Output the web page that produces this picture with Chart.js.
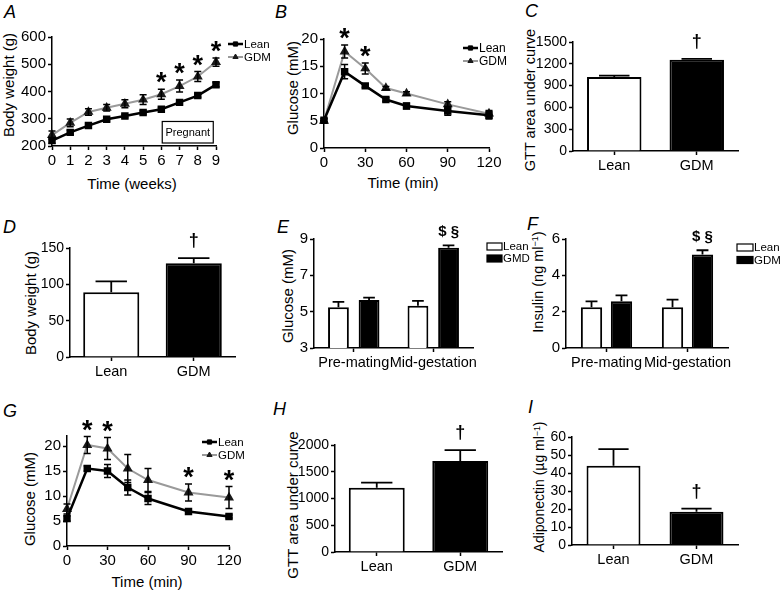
<!DOCTYPE html>
<html><head><meta charset="utf-8">
<script src="https://cdn.jsdelivr.net/npm/chart.js@4.4.1/dist/chart.umd.min.js"></script>
<style>
html,body{margin:0;padding:0;background:#fff;}
#wrap{position:relative;width:783px;height:592px;overflow:hidden;background:#fff;font-family:'Liberation Sans',Arial,sans-serif;color:#000;}
#wrap canvas{position:absolute;left:0;top:0;}
.t{position:absolute;white-space:nowrap;line-height:1;transform:translate(-50%,-50%);}
.r{transform:translate(-50%,-50%) rotate(-90deg);}
.p{position:absolute;font-style:italic;font-size:18px;line-height:1;}
sup{font-size:0.62em;vertical-align:0.5em;line-height:0;}
</style></head><body><div id="wrap">
<div class="p" style="left:4px;top:3px">A</div>
<div class="p" style="left:275px;top:3px">B</div>
<div class="p" style="left:525px;top:2px">C</div>
<div class="p" style="left:3px;top:218px">D</div>
<div class="p" style="left:277px;top:218px">E</div>
<div class="p" style="left:527px;top:215px">F</div>
<div class="p" style="left:3px;top:402px">G</div>
<div class="p" style="left:273px;top:400px">H</div>
<div class="p" style="left:528px;top:398px">I</div>

<div class="t r" style="left:8px;top:85px;font-size:15px">Body weight (g)</div>
<div class="t" style="left:132px;top:183px;font-size:15px">Time (weeks)</div>
<div class="t r" style="left:292px;top:88px;font-size:15px">Glucose (mM)</div>
<div class="t" style="left:403px;top:182px;font-size:15px">Time (min)</div>
<div class="t r" style="left:530px;top:100px;font-size:14.5px">GTT area under curve</div>
<div class="t r" style="left:30px;top:303px;font-size:15px">Body weight (g)</div>
<div class="t r" style="left:287px;top:296px;font-size:15px">Glucose (mM)</div>
<div class="t r" style="left:538px;top:282px;font-size:14.5px">Insulin (ng ml<sup>−1</sup>)</div>
<div class="t r" style="left:29px;top:499px;font-size:15px">Glucose (mM)</div>
<div class="t" style="left:147px;top:581px;font-size:15px">Time (min)</div>
<div class="t r" style="left:292px;top:505px;font-size:15px">GTT area under curve</div>
<div class="t r" style="left:539px;top:487px;font-size:14px">Adiponectin (µg ml<sup>−1</sup>)</div>
</div>
<script>
const FONT = "'Liberation Sans', Arial, sans-serif";

// ---- Panel A: body weight over time ----
const weeks = [0,1,2,3,4,5,6,7,8,9];
const weightLean = [220,250,275,298,310,323,335,360,385,425];
const weightLeanErr = [10,8,7,6,6,6,6,6,6,8];
const weightGDM = [240,285,325,340,355,370,390,420,455,508];
const weightGDMErr = [15,14,12,12,15,18,18,22,18,15];
const weightSig = ['','','','','','','*','*','*','*'];
const weightYTicks = [200,300,400,500,600];

// ---- Panel B: GTT ----
const gttTime = [0,15,30,45,60,90,120];
const gttXTicks = [0,30,60,90,120];
const gttLean = [5.1,14.0,11.4,8.9,7.7,6.8,6.0];
const gttLeanErr = [0.3,1.3,0.3,0.3,0.5,0.8,0.7];
const gttGDM = [5.0,17.7,14.6,11.0,10.0,8.0,6.3];
const gttGDMErr = [0.3,1.2,1.0,0.3,0.3,0.5,0.6];
const gttSig = ['','*','*','','','',''];
const gttYTicks = [0,5,10,15,20];

// ---- Panel C: GTT AUC ----
const groups = ['Lean','GDM'];
const aucMean = [1020,1255];
const aucErr = [18,12];
const aucSig = ['','†'];
const aucYTicks = [0,300,600,900,1200,1500];

// ---- Panel D: body weight gain ----
const bwMean = [89,129];
const bwErr = [15,7];
const bwSig = ['','†'];
const bwYTicks = [0,50,100,150];

// ---- Panel E: glucose ----
const phases = ['Pre-mating','Mid-gestation'];
const glucLean = [5.24,5.33];
const glucLeanErr = [0.3,0.26];
const glucGDM = [5.64,8.52];
const glucGDMErr = [0.13,0.13];
const glucSig = ['','$ §'];
const glucYTicks = [3,5,7,9];

// ---- Panel F: insulin ----
const insLean = [2.24,2.24];
const insLeanErr = [0.33,0.42];
const insGDM = [2.57,5.14];
const insGDMErr = [0.33,0.24];
const insSig = ['','$ §'];
const insYTicks = [0,2,4,6];

// ---- Panel G: second GTT ----
const gtt2Lean = [5.5,15.5,15.0,11.7,9.5,6.9,5.9];
const gtt2LeanErr = [0.5,0.5,1.3,1.5,1.2,0.3,0.3];
const gtt2GDM = [7.4,20.2,19.5,15.5,13.2,10.7,9.7];
const gtt2GDMErr = [1.0,1.7,2.2,2.8,2.3,1.7,2.2];
const gtt2Sig = ['','*','*','','','*','*'];

// ---- Panel H: GTT AUC ----
const auc2Mean = [1200,1700];
const auc2Err = [95,205];
const auc2Sig = ['','†'];
const auc2YTicks = [0,500,1000,1500,2000];

// ---- Panel I: adiponectin ----
const adipoMean = [44,18.5];
const adipoErr = [9.3,1.7];
const adipoSig = ['','†'];
const adipoYTicks = [0,10,20,30,40,50,60];

Chart.defaults.font.family = FONT;
Chart.defaults.color = '#000';

const errPlugin = {
  id:'errBars',
  afterDatasetsDraw(chart){
    const ctx=chart.ctx, ys=chart.scales.y;
    chart.data.datasets.forEach((ds,di)=>{
      if(!ds.errors) return;
      const meta=chart.getDatasetMeta(di);
      meta.data.forEach((el,i)=>{
        const raw=ds.data[i]; const v=(typeof raw==='object')?raw.y:raw;
        const e=ds.errors[i]; if(!e) return;
        const x=el.x;
        const top=ys.getPixelForValue(v+e);
        const bot=ds.errUp?el.y:ys.getPixelForValue(v-e);
        const cap=ds.errUp? el.width*0.28 : 3.5;
        ctx.save(); ctx.strokeStyle='#000'; ctx.lineWidth=ds.errUp?1.8:1.5;
        ctx.beginPath(); ctx.moveTo(x,bot); ctx.lineTo(x,top);
        ctx.moveTo(x-cap,top); ctx.lineTo(x+cap,top);
        if(!ds.errUp){ctx.moveTo(x-cap,bot);ctx.lineTo(x+cap,bot);}
        ctx.stroke(); ctx.restore();
      });
    });
  }
};
const markPlugin = {
  id:'sigMarks',
  afterDatasetsDraw(chart){
    const ctx=chart.ctx, ys=chart.scales.y;
    chart.data.datasets.forEach((ds,di)=>{
      if(!ds.marks) return;
      const meta=chart.getDatasetMeta(di);
      const m=ds.markStyle;
      meta.data.forEach((el,i)=>{
        const t=ds.marks[i]; if(!t) return;
        const raw=ds.data[i]; const v=(typeof raw==='object')?raw.y:raw;
        const e=ds.errors?ds.errors[i]:0;
        const cy=ys.getPixelForValue(v+e)-m.gap;
        ctx.save(); ctx.fillStyle='#000'; ctx.font='bold '+m.size+'px '+FONT;
        ctx.textAlign='center'; ctx.textBaseline='alphabetic';
        ctx.fillText(t, el.x, cy + m.frac*m.size);
        ctx.restore();
      });
    });
  }
};
const lineLegend = {
  id:'lineLegend',
  afterDraw(chart,args,o){
    if(!o || o.x===undefined) return;
    const ctx=chart.ctx;
    chart.data.datasets.forEach((ds,i)=>{
      const y=o.y+i*o.dy;
      ctx.save();
      ctx.strokeStyle=ds.borderColor; ctx.lineWidth=ds.borderWidth;
      ctx.beginPath(); ctx.moveTo(o.x,y); ctx.lineTo(o.x+o.len,y); ctx.stroke();
      ctx.fillStyle=ds.pointBackgroundColor; ctx.strokeStyle=ds.pointBorderColor; ctx.lineWidth=1;
      Chart.helpers.drawPoint(ctx,{pointStyle:ds.pointStyle,radius:3,rotation:0,borderWidth:1},o.x+o.len/2,y);
      ctx.fillStyle='#000'; ctx.font=o.size+'px '+FONT; ctx.textBaseline='middle'; ctx.textAlign='left';
      ctx.fillText(ds.label,o.x+o.len+1,y+0.5);
      ctx.restore();
    });
  }
};
const boxLegend = {
  id:'boxLegend',
  afterDraw(chart,args,o){
    if(!o || o.x===undefined) return;
    const ctx=chart.ctx;
    chart.data.datasets.forEach((ds,i)=>{
      const y=o.y+i*o.dy;
      ctx.save();
      ctx.fillStyle=ds.backgroundColor; ctx.fillRect(o.x,y-o.h/2,o.w,o.h);
      ctx.strokeStyle='#000'; ctx.lineWidth=1.2; ctx.strokeRect(o.x,y-o.h/2,o.w,o.h);
      ctx.fillStyle='#000'; ctx.font=o.size+'px '+FONT; ctx.textBaseline='middle'; ctx.textAlign='left';
      ctx.fillText(ds.label,o.x+o.w+1,y+0.5);
      ctx.restore();
    });
  }
};
const regionBox = {
  id:'regionBox',
  afterDraw(chart,args,o){
    if(!o || o.x0===undefined) return;
    const ctx=chart.ctx, xs=chart.scales.x, ys=chart.scales.y;
    const x0=xs.getPixelForValue(o.x0), x1=xs.getPixelForValue(o.x1);
    const y0=ys.getPixelForValue(o.y0), y1=ys.getPixelForValue(o.y1);
    ctx.save(); ctx.strokeStyle='#000'; ctx.lineWidth=1.2;
    ctx.strokeRect(x0,y1,x1-x0,y0-y1);
    ctx.fillStyle='#000'; ctx.font=o.size+'px '+FONT; ctx.textAlign='center'; ctx.textBaseline='middle';
    ctx.fillText(o.text,(x0+x1)/2,(y0+y1)/2+0.5);
    ctx.restore();
  }
};
Chart.register(errPlugin, markPlugin, lineLegend, boxLegend, regionBox);

function linScale(vals, size, extra){
  return Object.assign({
    type:'linear', min:vals[0], max:vals[vals.length-1],
    afterBuildTicks: s=>{ s.ticks = vals.map(v=>({value:v})); },
    border:{display:true,color:'#000',width:1.5},
    grid:{display:true,drawOnChartArea:false,drawTicks:true,tickLength:4,tickWidth:1.5,tickColor:'#000',color:'#000'},
    ticks:{color:'#000',font:{size:size,family:FONT},padding:2,autoSkip:false,maxRotation:0,callback:v=>String(v)}
  }, extra||{});
}
function catScale(size){
  return {
    type:'category', offset:true,
    border:{display:true,color:'#000',width:1.5},
    grid:{display:true,drawOnChartArea:false,drawTicks:true,tickLength:4,tickWidth:1.5,tickColor:'#000',color:'#000',offset:false},
    ticks:{color:'#000',font:{size:size,family:FONT},padding:2,autoSkip:false,maxRotation:0}
  };
}
function panel(area, type, data, xs, ys, plugins){
  const c=document.createElement('canvas'); c.width=783; c.height=592;
  document.getElementById('wrap').appendChild(c);
  const YW=40, XH=30;
  xs.afterFit = s=>{ s.height=XH; };
  ys.afterFit = s=>{ s.width=YW; };
  return new Chart(c,{type:type,data:data,options:{
    responsive:false, animation:false, devicePixelRatio:1,
    layout:{padding:{left:area.l-YW, top:area.t, right:783-area.r, bottom:592-area.b-XH}},
    scales:{x:xs,y:ys},
    plugins:Object.assign({legend:{display:false},tooltip:{enabled:false}},plugins||{})
  }});
}
const pts=(xs,ys)=>xs.map((x,i)=>({x:x,y:ys[i]}));
const STAR={size:27,gap:13,frac:0.56};
const DAG={size:18,gap:17,frac:0.27};
const DOL={size:15,gap:14,frac:0.33};
function leanLine(d,err){return {label:'Lean',data:d,errors:err,borderColor:'#000',borderWidth:2.5,pointStyle:'rect',pointRadius:3.5,pointBackgroundColor:'#000',pointBorderColor:'#000',tension:0,clip:false};}
function gdmLine(d,err,sig){return {label:'GDM',data:d,errors:err,marks:sig,markStyle:STAR,borderColor:'#9a9a9a',borderWidth:2,pointStyle:'triangle',pointRadius:3.8,pointBackgroundColor:'#1a1a1a',pointBorderColor:'#1a1a1a',tension:0,clip:false};}

// A
panel({l:52,r:216,t:37,b:146},'line',{datasets:[
  leanLine(pts(weeks,weightLean),weightLeanErr),
  gdmLine(pts(weeks,weightGDM),weightGDMErr,weightSig)
]}, linScale(weeks,15), linScale(weightYTicks,15),
{lineLegend:{x:228,y:44,dy:13,len:15,size:11.5}, regionBox:{x0:6.05,x1:8.85,y0:211,y1:290,text:'Pregnant',size:11}});

// B
panel({l:324,r:489,t:39,b:148},'line',{datasets:[
  leanLine(pts(gttTime,gttLean),gttLeanErr),
  gdmLine(pts(gttTime,gttGDM),gttGDMErr,gttSig)
]}, linScale(gttXTicks,15), linScale(gttYTicks,15),
{lineLegend:{x:463,y:48,dy:13,len:15,size:12}});

// G
panel({l:67,r:229,t:436,b:546},'line',{datasets:[
  leanLine(pts(gttTime,gtt2Lean),gtt2LeanErr),
  gdmLine(pts(gttTime,gtt2GDM),gtt2GDMErr,gtt2Sig)
]}, linScale(gttXTicks,15), linScale(gttYTicks,15,{max:22}),
{lineLegend:{x:202,y:442,dy:13,len:15,size:11.5}});

function twoBar(area, vals, errs, sig, yt, ysize, pct){
  return panel(area,'bar',{labels:groups,datasets:[{
    label:'v',data:vals,errors:errs,errUp:true,marks:sig,markStyle:DAG,
    backgroundColor:['#fff','#000'],borderColor:'#000',borderWidth:2,
    categoryPercentage:1,barPercentage:pct
  }]}, catScale(14.5), linScale(yt,ysize));
}
twoBar({l:573,r:738,t:42,b:151},aucMean,aucErr,aucSig,aucYTicks,14,0.66);
twoBar({l:70,r:235,t:248,b:357},bwMean,bwErr,bwSig,bwYTicks,14,0.68);
twoBar({l:335,r:502,t:445,b:552},auc2Mean,auc2Err,auc2Sig,auc2YTicks,14,0.67);
twoBar({l:572,r:738,t:437,b:545},adipoMean,adipoErr,adipoSig,adipoYTicks,14,0.65);

function groupBar(area, l1, lv, le, l2, gv, ge, sig, yt, legend, cp, bp){
  return panel(area,'bar',{labels:phases,datasets:[
    {label:l1,data:lv,errors:le,errUp:true,backgroundColor:'#fff',borderColor:'#000',borderWidth:2,categoryPercentage:cp,barPercentage:bp},
    {label:l2,data:gv,errors:ge,errUp:true,marks:sig,markStyle:DOL,backgroundColor:'#000',borderColor:'#000',borderWidth:2,categoryPercentage:cp,barPercentage:bp}
  ]}, catScale(14.5), linScale(yt,15), {boxLegend:legend});
}
groupBar({l:314,r:473,t:239,b:348},'Lean',glucLean,glucLeanErr,'GMD',glucGDM,glucGDMErr,glucSig,glucYTicks,
  {x:487,y:246.5,dy:12,w:15,h:7,size:11.5},0.77,0.68);
groupBar({l:566,r:728,t:239,b:348},'Lean',insLean,insLeanErr,'GDM',insGDM,insGDMErr,insSig,insYTicks,
  {x:737,y:247.5,dy:12.5,w:16,h:7,size:11.5},0.74,0.71);
</script></body></html>
